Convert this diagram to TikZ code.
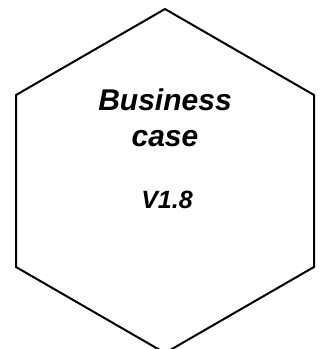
\documentclass[tikz,border=0pt]{standalone}
\usepackage{fontspec}
\setmainfont{Liberation Sans}
\tikzset{
  hexline/.style={draw=black, line width=2pt, line join=miter},
  bigtext/.style={font=\fontsize{30}{34}\selectfont\bfseries\itshape, anchor=base, inner sep=0pt},
  vertext/.style={font=\fontsize{25}{29}\selectfont\bfseries\itshape, anchor=base, inner sep=0pt}
}
\begin{document}
\begin{tikzpicture}[x=1pt,y=-1pt]
\useasboundingbox (0,0) rectangle (322,349);
\begin{scope}
\clip (0,0) rectangle (322,349);
\coordinate (t) at (165,9);
\coordinate (ul) at (16,95);
\coordinate (ll) at (16,267);
\coordinate (b) at (165,353);
\coordinate (lr) at (314,267);
\coordinate (ur) at (314,95);
\draw[hexline] (t) -- (ul) -- (ll) -- (b) -- (lr) -- (ur) -- cycle;
\end{scope}
\node[bigtext] (l1) at (165,110) {Business};
\node[bigtext] (l2) at (165,146) {case};
\node[vertext] (l3) at (167,208) {V1.8};
\end{tikzpicture}
\end{document}
